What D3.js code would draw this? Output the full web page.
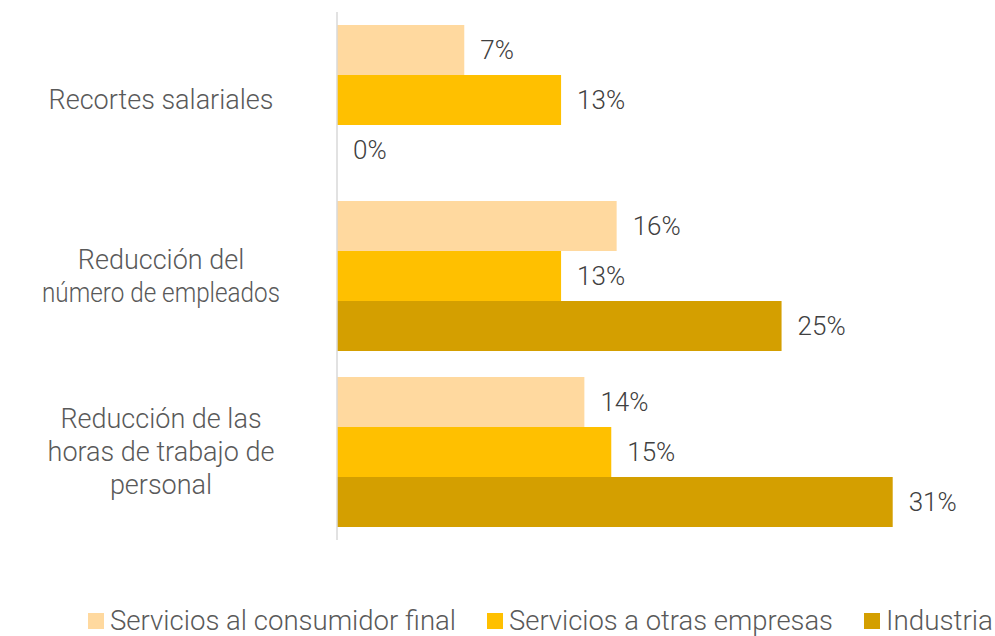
<!DOCTYPE html>
<html>
<head>
<meta charset="utf-8">
<script src="https://cdn.jsdelivr.net/npm/d3@7"></script>
<style>
  body { margin: 0; background: #fff; }
  svg text { font-family: Roboto, "Noto Sans", sans-serif; font-weight: 300; }
</style>
</head>
<body>
<svg id="chart" width="995" height="636"></svg>
<script>
// categories (top to bottom), each with multi-line label
var categories = ["Recortes salariales", "Reducción del número de empleados", "Reducción de las horas de trabajo de personal"];
var categoryLines = [["Recortes salariales"], ["Reducción del", "número de empleados"], ["Reducción de las", "horas de trabajo de", "personal"]];

var series = ["Servicios al consumidor final", "Servicios a otras empresas", "Industria"];
var colors = ["#FFD99F", "#FFC000", "#D49F00"];

// values in %, one list per series, in category order
var consumidorFinal = [7.1, 15.6, 13.8];
var otrasEmpresas = [12.5, 12.5, 15.3];
var industria = [0, 24.8, 31.0];

var seriesValues = [consumidorFinal, otrasEmpresas, industria];

var svg = d3.select("#chart");

var x = d3.scaleLinear()
    .domain([0, 31])
    .range([337, 892.7]);

var p = 26 / 176;
var y = d3.scaleBand()
    .domain(categories)
    .range([12, 540])
    .paddingInner(p)
    .paddingOuter(p / 2);

var ySub = d3.scaleBand()
    .domain(series)
    .range([0, y.bandwidth()]);

var rows = [];
categories.forEach(function(c, ci) {
  series.forEach(function(s, si) {
    rows.push({cat: c, series: s, si: si, value: seriesValues[si][ci]});
  });
});

// bars
svg.append("g")
  .selectAll("rect")
  .data(rows)
  .enter().append("rect")
    .attr("x", x(0))
    .attr("y", function(d) { return y(d.cat) + ySub(d.series); })
    .attr("width", function(d) { return x(d.value) - x(0); })
    .attr("height", ySub.bandwidth())
    .attr("fill", function(d) { return colors[d.si]; });

// value labels
svg.append("g")
  .selectAll("text")
  .data(rows)
  .enter().append("text")
    .attr("x", function(d) { return x(d.value) + 16; })
    .attr("y", function(d) { return y(d.cat) + ySub(d.series) + ySub.bandwidth() / 2; })
    .attr("dy", "0.36em")
    .attr("font-size", 26)
    .attr("fill", "#404040")
    .text(function(d) { return Math.round(d.value) + "%"; });

// vertical axis line
svg.append("line")
    .attr("x1", x(0)).attr("x2", x(0))
    .attr("y1", 12).attr("y2", 540)
    .attr("stroke", "#d9d9d9")
    .attr("stroke-width", 1.5);

// category labels
var lineH = 33;
var catLabels = svg.append("g")
  .selectAll("text")
  .data(categories)
  .enter().append("text")
    .attr("text-anchor", "middle")
    .attr("font-size", 27)
    .attr("fill", "#595959")
    .attr("transform", function(d) { return "translate(161," + (y(d) + y.bandwidth() / 2) + ")"; });

catLabels.each(function(d, i) {
  var lines = categoryLines[i];
  var t = d3.select(this);
  lines.forEach(function(l, li) {
    var ts = t.append("tspan")
      .attr("x", 0)
      .attr("y", (li - (lines.length - 1) / 2) * lineH)
      .attr("dy", "0.35em")
      .text(l);
    // keep the wide line from spilling toward the axis
    if (ts.node().getComputedTextLength() > 240) {
      ts.attr("textLength", 238).attr("lengthAdjust", "spacingAndGlyphs");
    }
  });
});

// legend
var legendX = [88, 487, 864];
var legendW = [346, 324, 107];
var legend = svg.append("g")
  .selectAll("g")
  .data(series)
  .enter().append("g")
    .attr("transform", function(d, i) { return "translate(" + legendX[i] + ",621)"; });

legend.append("rect")
    .attr("x", 0).attr("y", -8)
    .attr("width", 16).attr("height", 16)
    .attr("fill", function(d, i) { return colors[i]; });

legend.append("text")
    .attr("x", function(d, i) { return [110, 509, 886][i] - legendX[i]; })
    .attr("y", 9)
    .attr("font-size", 28)
    .attr("fill", "#595959")
    .attr("textLength", function(d, i) { return legendW[i]; })
    .attr("lengthAdjust", "spacingAndGlyphs")
    .text(function(d) { return d; });
</script>
</body>
</html>
